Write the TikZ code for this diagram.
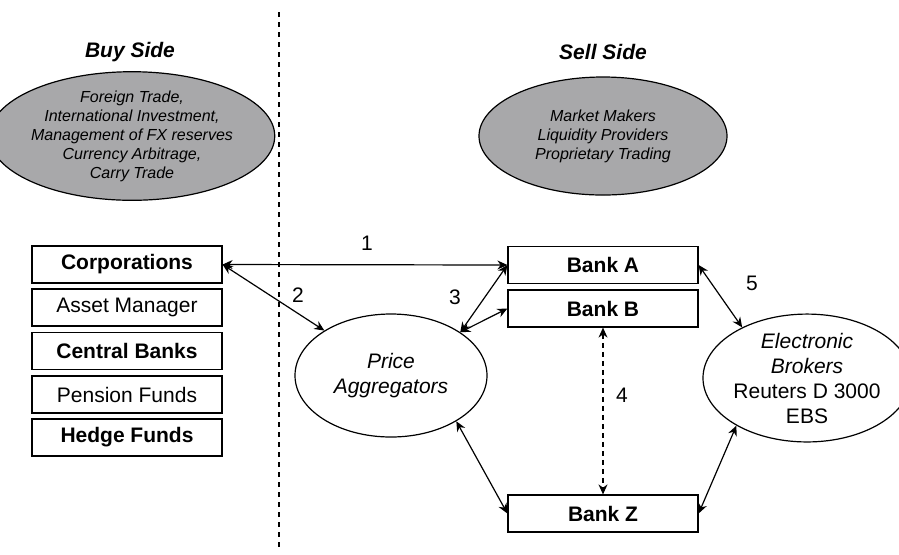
\documentclass[tikz,border=0pt]{standalone}
\usepackage{fontspec}
\setmainfont{Liberation Sans}
\usetikzlibrary{shapes.geometric,arrows.meta}
\definecolor{ovalgray}{RGB}{168,168,170}
\begin{document}
\begin{tikzpicture}[x=0.5pt,y=-0.5pt]
      \tikzset{
        party box/.style={rectangle,draw=black,fill=none,line width=0.6pt,minimum width=95pt,minimum height=18.5pt,inner sep=0pt,font=\fontsize{10.5}{12.5}\selectfont},
        side oval/.style={ellipse,draw=black,fill=ovalgray,line width=0.6pt,inner sep=0pt,align=center,font=\itshape\fontsize{8}{9.5}\selectfont},
        venue oval/.style={ellipse,draw=black,fill=none,line width=0.6pt,inner sep=0pt,align=center,font=\fontsize{10.5}{12.5}\selectfont},
        side title/.style={font=\bfseries\itshape\fontsize{10.5}{12.5}\selectfont},
        flow label/.style={font=\fontsize{10.5}{12.5}\selectfont,inner sep=0pt},
        link/.style={{Stealth[length=5pt,width=4.5pt]}-{Stealth[length=5pt,width=4.5pt]},line width=0.6pt}
      }
      \useasboundingbox (0,0) rectangle (899,554);
      % buy side / sell side divider
      \coordinate (divtop) at (279,12);
      \coordinate (divbot) at (279,549);
      \draw[line width=0.7pt,dash pattern=on 2.5pt off 2.5pt] (divtop) -- (divbot);
      % titles and motive ovals
      \node[side title] (buytitle) at (130,52) {Buy Side};
      \node[side title] (selltitle) at (603,52) {Sell Side};
      \node[side oval,minimum width=125pt,minimum height=59pt] (buyoval) at (132,136)
        {Foreign Trade,\\International Investment,\\Management of FX reserves\\Currency Arbitrage,\\Carry Trade};
      \node[side oval,minimum width=124pt,minimum height=59pt] (selloval) at (603,136)
        {Market Makers\\Liquidity Providers\\Proprietary Trading};
      % buy side participants
      \node[party box] (corp) at (127,264.5) {\bfseries Corporations};
      \node[party box] (asset) at (127,307.5) {Asset Manager};
      \node[party box] (central) at (127,351) {\bfseries Central Banks};
      \node[party box] (pension) at (127,394.5) {Pension Funds};
      \node[party box] (hedge) at (127,437.5) {\bfseries Hedge Funds};
      % sell side banks
      \node[party box] (bankA) at (603,265) {\bfseries Bank A};
      \node[party box] (bankB) at (603,308.5) {\bfseries Bank B};
      \node[party box] (bankZ) at (603,513.5) {\bfseries Bank Z};
      % trading venues
      \node[venue oval,minimum width=96pt,minimum height=61.5pt] (pa) at (391,375.5)
        {\itshape Price\\\itshape Aggregators};
      \node[venue oval,minimum width=92pt,minimum height=60pt] (eb) at (807,378)
        {\itshape Electronic\\\itshape Brokers\\Reuters D 3000\\EBS};
      % flows
      \draw[link] (corp.east) -- (bankA.west);
      \draw[link] (corp.east) -- (pa.146);
      \draw[link] (bankA.west) -- (pa.32);
      \draw[link] (bankB.west) -- (pa.32);
      \draw[link,dash pattern=on 2.5pt off 2pt] (bankB.south) -- (bankZ.north);
      \draw[link] (pa.-35) -- (bankZ.west);
      \draw[link] (bankA.east) -- (eb.142);
      \draw[link] (bankZ.east) -- (eb.214);
      % flow numbers
      \node[flow label] (n1) at (367,243) {1};
      \node[flow label] (n2) at (298,295) {2};
      \node[flow label] (n3) at (455,297) {3};
      \node[flow label] (n4) at (622,395) {4};
      \node[flow label] (n5) at (752,283) {5};
    \end{tikzpicture}
\end{document}
